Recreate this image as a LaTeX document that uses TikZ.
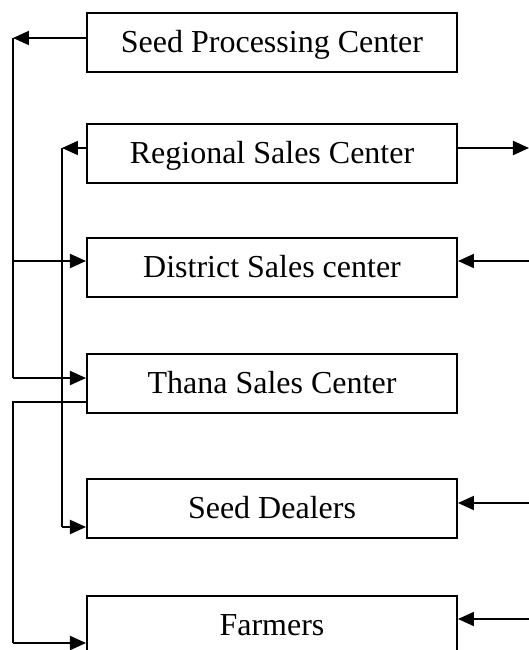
\documentclass[tikz,border=0pt]{standalone}
\usepackage{fontspec}
\setmainfont{Liberation Serif}
\usetikzlibrary{arrows.meta}

\begin{document}
\begin{tikzpicture}[x=0.5pt,y=-0.5pt,line width=1pt,
  box/.style={draw,minimum width=185pt,minimum height=29.5pt,inner sep=0pt,
    text height=10.4pt,text depth=0pt,font=\fontsize{16}{18}\selectfont},
  arr/.style={-{Triangle[length=8pt,width=7pt]}}]
  \useasboundingbox (0,0) rectangle (529,650);
  \clip (0,0) rectangle (529,650);
  % boxes
  \node[box] (spc) at (272,42.5) {Seed Processing Center};
  \node[box] (rsc) at (272,153) {Regional Sales Center};
  \node[box] (dsc) at (272,267) {District Sales center};
  \node[box] (tsc) at (272,383.5) {Thana Sales Center};
  \node[box] (sd) at (272,508.5) {Seed Dealers};
  \node[box] (fa) at (272,625) {Farmers};
  % turning points
  \coordinate (tl) at (13,38);
  \coordinate (ld) at (13,261);
  \coordinate (lt) at (13,378);
  \coordinate (lo) at (13,402);
  \coordinate (lf) at (13,643);
  \coordinate (rl) at (62,148);
  \coordinate (rd) at (62,527);
  \coordinate (er) at (529,148);
  \coordinate (ed) at (529,261);
  \coordinate (es) at (529,503);
  \coordinate (ef) at (529,619);
  % left side
  \draw[arr] (spc.west |- tl) -- (tl);
  \draw (tl) -- (lt);
  \draw[arr] (ld) -- (dsc.west |- ld);
  \draw[arr] (lt) -- (tsc.west |- lt);
  \draw (tsc.west |- lo) -- (lo) -- (lf);
  \draw[arr] (lf) -- (fa.west |- lf);
  \draw[arr] (rsc.west |- rl) -- (rl);
  \draw (rl) -- (rd);
  \draw[arr] (rd) -- (sd.west |- rd);
  % right side
  \draw[arr] (rsc.east |- er) -- (er);
  \draw[arr] (ed) -- (dsc.east |- ed);
  \draw[arr] (es) -- (sd.east |- es);
  \draw[arr] (ef) -- (fa.east |- ef);
\end{tikzpicture}
\end{document}
